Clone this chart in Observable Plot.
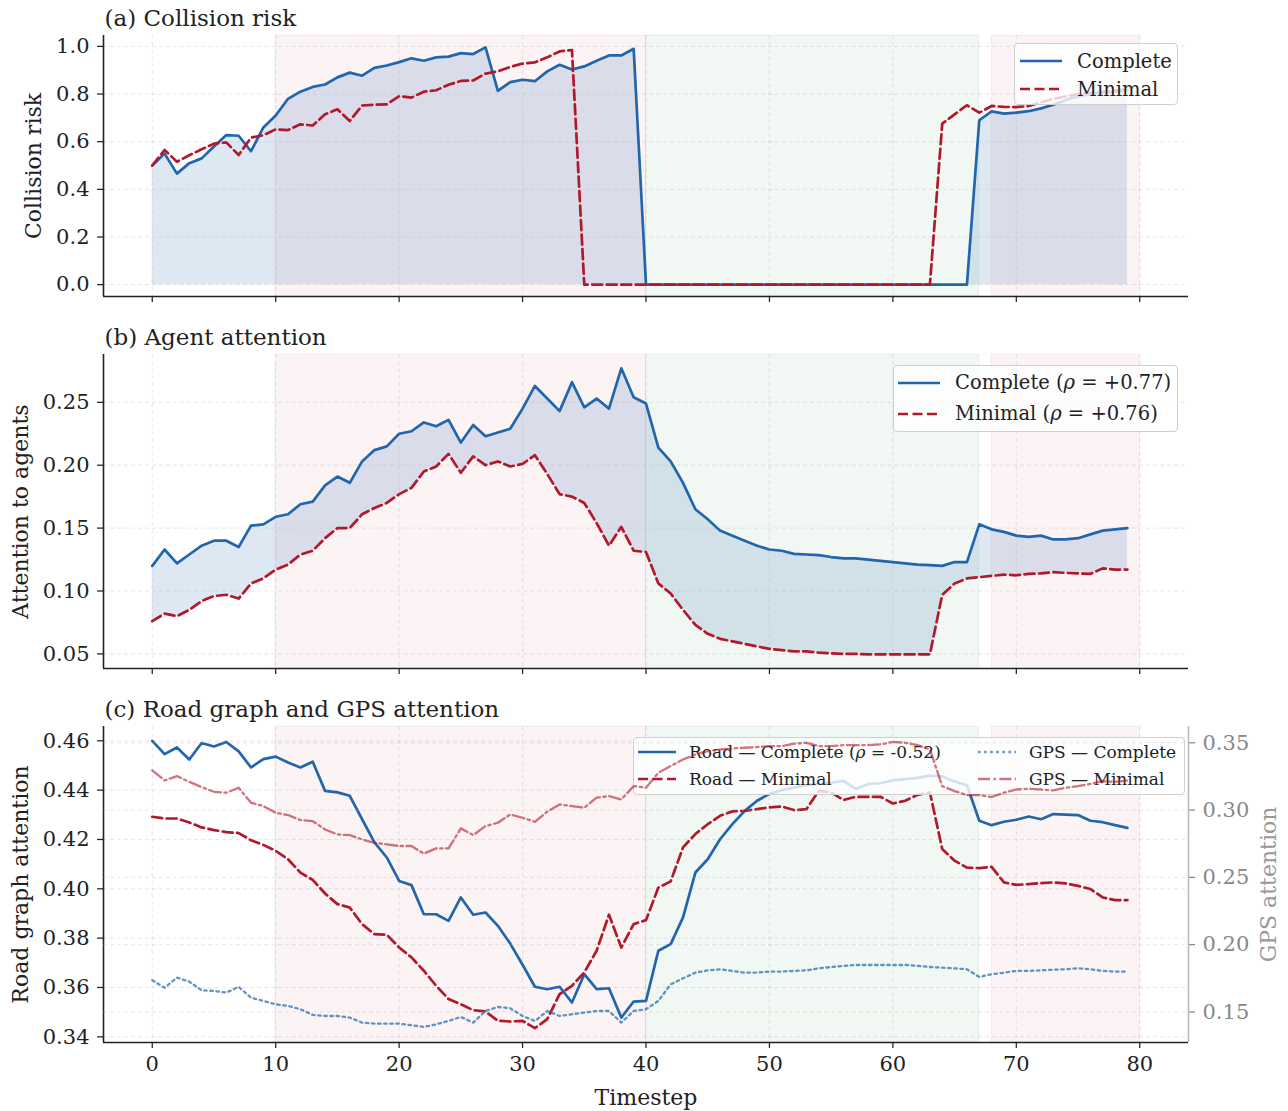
<!DOCTYPE html>
<html>
<head>
<meta charset="utf-8">
<script src="https://cdn.jsdelivr.net/npm/d3@7"></script>
<script src="https://cdn.jsdelivr.net/npm/@observablehq/plot@0.6"></script>
<style>
  body { margin: 0; background: #fff; }
  #fig { position: relative; width: 1288px; height: 1111px; background: #fff; font-family: "DejaVu Serif", serif; color: #222; overflow: hidden; }
  .legend { position: absolute; box-sizing: border-box; background: rgba(255,255,255,0.8); border: 1px solid #cfcfcf; border-radius: 4px; }
  .legend .item { position: absolute; display: flex; align-items: center; white-space: nowrap; }
</style>
</head>
<body>
<div id="fig"></div>
<script>
// ---------------- data ----------------
const timestepTicks = [0, 10, 20, 30, 40, 50, 60, 70, 80];
const riskTicks = [0.0, 0.2, 0.4, 0.6, 0.8, 1.0];
const agentTicks = [0.05, 0.10, 0.15, 0.20, 0.25];
const roadTicks = [0.34, 0.36, 0.38, 0.40, 0.42, 0.44, 0.46];
const gpsTicks = [0.15, 0.20, 0.25, 0.30, 0.35];

const phaseSpans = [
  {start: 10, end: 40, kind: "critical"},
  {start: 40, end: 67, kind: "safe"},
  {start: 68, end: 80, kind: "critical"}
];

// (a) collision risk, timesteps 0..79
const riskComplete = [
  0.50,0.55,0.466,0.51,0.53,0.58,0.628,0.625,0.56,0.66,
  0.71,0.78,0.81,0.83,0.84,0.87,0.89,0.877,0.91,0.92,
  0.934,0.95,0.94,0.954,0.957,0.972,0.968,0.996,0.813,0.85,
  0.86,0.854,0.895,0.923,0.903,0.916,0.94,0.962,0.962,0.99,
  0,0,0,0,0,0,0,0,0,0,
  0,0,0,0,0,0,0,0,0,0,
  0,0,0,0,0,0,0,0.69,0.727,0.718,
  0.722,0.728,0.74,0.755,0.775,0.79,0.80,0.805,0.81,0.815
];
const riskMinimal = [
  0.50,0.565,0.516,0.543,0.568,0.592,0.597,0.544,0.617,0.627,
  0.652,0.649,0.673,0.668,0.715,0.736,0.687,0.752,0.755,0.757,
  0.791,0.785,0.81,0.816,0.839,0.855,0.857,0.886,0.895,0.914,
  0.928,0.933,0.954,0.979,0.985,0,0,0,0,0,
  0,0,0,0,0,0,0,0,0,0,
  0,0,0,0,0,0,0,0,0,0,
  0,0,0,0,0.676,0.715,0.753,0.722,0.75,0.746,
  0.745,0.75,0.765,0.78,0.79,0.80,0.805,0.81,0.815,0.82
];

// (b) attention to agents
const agentComplete = [
  0.120,0.133,0.122,0.129,0.136,0.140,0.140,0.135,0.152,0.153,
  0.159,0.161,0.169,0.171,0.184,0.191,0.186,0.203,0.212,0.215,
  0.225,0.227,0.234,0.231,0.236,0.218,0.232,0.223,0.226,0.229,
  0.245,0.263,0.253,0.243,0.266,0.246,0.253,0.245,0.277,0.254,
  0.249,0.214,0.203,0.186,0.165,0.157,0.148,0.144,0.140,0.136,
  0.133,0.132,0.1295,0.129,0.1285,0.127,0.126,0.126,0.125,0.124,
  0.123,0.122,0.121,0.1205,0.120,0.123,0.123,0.153,0.149,0.147,
  0.144,0.143,0.144,0.141,0.141,0.142,0.145,0.148,0.149,0.150
];
const agentMinimal = [
  0.076,0.082,0.080,0.085,0.092,0.096,0.097,0.094,0.106,0.110,
  0.117,0.121,0.129,0.132,0.142,0.150,0.150,0.161,0.166,0.170,
  0.177,0.182,0.195,0.199,0.209,0.194,0.207,0.200,0.203,0.199,
  0.201,0.208,0.193,0.177,0.175,0.170,0.154,0.136,0.151,0.132,
  0.131,0.106,0.098,0.085,0.073,0.066,0.062,0.060,0.058,0.056,
  0.054,0.053,0.052,0.052,0.051,0.0505,0.050,0.050,0.0497,0.0497,
  0.0497,0.0497,0.0497,0.0497,0.097,0.106,0.110,0.111,0.112,0.113,
  0.1125,0.1136,0.114,0.115,0.1144,0.114,0.1136,0.118,0.117,0.117
];

// (c) road graph attention (left axis)
const roadComplete = [
  0.460,0.4546,0.4573,0.4524,0.4591,0.4577,0.4595,0.4557,0.4492,0.4526,
  0.4536,0.4512,0.4492,0.4515,0.4397,0.4391,0.4377,0.4282,0.4188,0.4127,
  0.4032,0.4015,0.3897,0.3897,0.387,0.3965,0.3895,0.3904,0.385,0.3778,
  0.3692,0.3603,0.3593,0.3603,0.3539,0.3654,0.3593,0.3597,0.3478,0.3543,
  0.3546,0.3749,0.3776,0.3884,0.4066,0.412,0.4201,0.4262,0.4316,0.4357,
  0.4385,0.440,0.441,0.442,0.4425,0.443,0.4438,0.4405,0.4425,0.4428,
  0.444,0.4445,0.445,0.4459,0.4455,0.4435,0.442,0.4276,0.4258,0.4272,
  0.428,0.4293,0.4282,0.4303,0.4301,0.4299,0.4276,0.427,0.4258,0.4247
];
const roadMinimal = [
  0.4292,0.4285,0.4285,0.4269,0.4249,0.4238,0.423,0.4226,0.4197,0.4178,
  0.4154,0.412,0.4066,0.4036,0.3981,0.3938,0.3924,0.3857,0.3816,0.3814,
  0.3762,0.3722,0.3668,0.3607,0.3553,0.3532,0.3508,0.3503,0.3465,0.3462,
  0.3465,0.3435,0.3472,0.3573,0.3607,0.3661,0.3749,0.3895,0.3762,0.3857,
  0.3873,0.4005,0.403,0.4168,0.4222,0.4262,0.4296,0.4314,0.4316,0.4323,
  0.433,0.4334,0.4319,0.4323,0.4397,0.4391,0.436,0.4373,0.4373,0.4373,
  0.4346,0.4357,0.4381,0.4391,0.4161,0.4114,0.4086,0.4084,0.4089,0.4026,
  0.4016,0.4019,0.4023,0.4026,0.4022,0.4012,0.3999,0.3965,0.3954,0.3954
];

// (c) GPS attention (right axis)
const gpsComplete = [
  0.1735,0.168,0.1755,0.1725,0.1661,0.1656,0.1644,0.1686,0.1606,0.1582,
  0.1557,0.1545,0.152,0.1478,0.147,0.147,0.1458,0.1421,0.1413,0.1413,
  0.1413,0.1401,0.1389,0.1408,0.1433,0.1463,0.1421,0.1507,0.1537,0.1527,
  0.147,0.1433,0.1507,0.147,0.1483,0.1495,0.1507,0.1507,0.1421,0.1507,
  0.152,0.1582,0.1705,0.175,0.1792,0.1809,0.1817,0.1805,0.1792,0.1792,
  0.18,0.18,0.1805,0.1809,0.1824,0.1834,0.1842,0.1849,0.1849,0.1849,
  0.1849,0.1849,0.1842,0.1834,0.1829,0.1824,0.1817,0.176,0.178,0.1792,
  0.1805,0.1805,0.1809,0.1814,0.1817,0.1824,0.1817,0.1805,0.18,0.18
];
const gpsMinimal = [
  0.3295,0.322,0.3252,0.321,0.3171,0.3136,0.3129,0.3166,0.3054,0.303,
  0.298,0.2963,0.2926,0.2918,0.2856,0.2819,0.2814,0.2782,0.2757,0.2745,
  0.2733,0.2733,0.2676,0.2715,0.2715,0.2864,0.2814,0.2881,0.2906,0.2968,
  0.2943,0.2913,0.2988,0.3042,0.303,0.3017,0.3092,0.3104,0.3079,0.3178,
  0.3166,0.3277,0.3327,0.3376,0.3413,0.3438,0.345,0.3458,0.3463,0.3468,
  0.3475,0.3475,0.3493,0.35,0.3475,0.3475,0.3483,0.3483,0.3483,0.3488,
  0.3507,0.35,0.3483,0.345,0.3178,0.3141,0.3111,0.3111,0.3097,0.3129,
  0.3153,0.3158,0.3153,0.3146,0.3166,0.3178,0.3195,0.3215,0.321,0.322
];

const riskLegend = ["Complete", "Minimal"];
const agentLegend = ["Complete (<i>ρ</i> = +0.77)", "Minimal (<i>ρ</i> = +0.76)"];
const roadLegend = ["Road — Complete (<i>ρ</i> = -0.52)", "Road — Minimal", "GPS — Complete", "GPS — Minimal"];

// ---------------- styling / helpers ----------------
const FONT = "DejaVu Serif";
const BLUE = "#2166ac", RED = "#b2182b", GREEN = "#2e8b3e";
const DASH = "10,4.5", DOT = "2.5,3.6", DASHDOT = "12,3.5,2.4,3.5";
const LW = 2.7, GPS_LW = 2.3;
const X_DOMAIN = [-3.95, 83.95];
const TICK_FONT = 21;
const fig = document.getElementById("fig");
const idx = (d, i) => i;

const gridStyle = {stroke: "#b0b0b0", strokeOpacity: 0.4, strokeDasharray: "4,3", strokeWidth: 0.8};

function spanMarks() {
  return [
    Plot.rect(phaseSpans.filter(d => d.kind === "critical"), {x1: "start", x2: "end", fill: RED, fillOpacity: 0.05, stroke: RED, strokeOpacity: 0.06}),
    Plot.rect(phaseSpans.filter(d => d.kind === "safe"), {x1: "start", x2: "end", fill: GREEN, fillOpacity: 0.065, stroke: GREEN, strokeOpacity: 0.08})
  ];
}
function gridMarks(yt) {
  return [Plot.gridX(timestepTicks, gridStyle), Plot.gridY(yt, gridStyle)];
}
function axisMarks(yt, fmt, showX, yDomain) {
  return [
    Plot.axisX(timestepTicks, {tickSize: 6, tickPadding: 8, tickFormat: showX ? d => String(d) : () => "",
      fontSize: TICK_FONT, label: null, color: "#222", strokeWidth: 1.25}),
    Plot.axisY(yt, {tickSize: 6, tickPadding: 8, tickFormat: fmt, fontSize: TICK_FONT, label: null, color: "#222", strokeWidth: 1.25}),
    Plot.ruleX([X_DOMAIN[0]], {stroke: "#222", strokeWidth: 1.6}),
    Plot.ruleY([yDomain[0]], {stroke: "#222", strokeWidth: 1.6})
  ];
}
function titleMark(t) {
  return Plot.text([t], {text: d => d, frameAnchor: "top-left", textAnchor: "start", lineAnchor: "bottom",
    dy: -10, dx: 1, fontSize: 23, fill: "#222"});
}
function yLabelMark(t, dx) {
  return Plot.text([t], {text: d => d, frameAnchor: "left", textAnchor: "middle", rotate: -90, dx, fontSize: 22, fill: "#222"});
}
function panel({top, height, marginTop, marginBottom, yDomain, marks, z}) {
  const svg = Plot.plot({
    width: 1288, height, marginLeft: 103, marginRight: 100, marginTop, marginBottom,
    x: {domain: X_DOMAIN, axis: null},
    y: {domain: yDomain, axis: null},
    style: {fontFamily: FONT, fontSize: TICK_FONT + "px", color: "#222", background: "transparent", overflow: "visible"},
    marks
  });
  const wrap = document.createElement("div");
  wrap.style.cssText = `position:absolute;left:0;top:${top}px;width:1288px;height:${height}px;z-index:${z || 1};`;
  wrap.appendChild(svg);
  fig.appendChild(wrap);
}
function swatch(color, dash, w, sw, opacity) {
  return `<svg width="${w}" height="12" style="display:block"><line x1="0" x2="${w}" y1="6" y2="6" stroke="${color}" stroke-width="${sw}" ${dash ? `stroke-dasharray="${dash}"` : ""} stroke-opacity="${opacity || 1}"/></svg>`;
}
function legendBox(box, items, z) {
  const div = document.createElement("div");
  div.className = "legend";
  div.style.cssText += `left:${box.left}px;top:${box.top}px;width:${box.width}px;height:${box.height}px;z-index:${z};font-size:${box.fontSize}px;`;
  div.innerHTML = items.map(it =>
    `<div class="item" style="left:${it.x}px;top:${it.y}px;height:${box.rowH}px">${swatch(it.color, it.dash, box.sw, it.width, it.opacity)}<span style="margin-left:${box.gap}px">${it.label}</span></div>`
  ).join("");
  fig.appendChild(div);
}

// ---------------- panel (a) ----------------
const yA = [-0.0498, 1.0458];
panel({top: 0, height: 320, marginTop: 35, marginBottom: 24, yDomain: yA, marks: [
  ...spanMarks(),
  Plot.areaY(riskComplete, {x: idx, y1: () => 0, y2: d => d, fill: BLUE, fillOpacity: 0.15}),
  ...gridMarks(riskTicks),
  Plot.line(riskComplete, {x: idx, y: d => d, stroke: BLUE, strokeWidth: LW}),
  Plot.line(riskMinimal, {x: idx, y: d => d, stroke: RED, strokeWidth: LW, strokeDasharray: DASH}),
  ...axisMarks(riskTicks, d => d.toFixed(1), false, yA),
  titleMark("(a) Collision risk"),
  yLabelMark("Collision risk", -70)
]});
legendBox({left: 1014, top: 43, width: 164, height: 62, rowH: 28, sw: 42, gap: 15, fontSize: 19.5}, [
  {x: 5, y: 3, label: riskLegend[0], color: BLUE, width: LW},
  {x: 5, y: 31, label: riskLegend[1], color: RED, dash: DASH, width: LW}
], 2);

// ---------------- panel (b) ----------------
const yB = [0.0384, 0.288];
panel({top: 320, height: 370, marginTop: 34, marginBottom: 22, yDomain: yB, marks: [
  ...spanMarks(),
  Plot.areaY(agentComplete, {x: idx, y1: (d, i) => agentMinimal[i], y2: d => d, fill: BLUE, fillOpacity: 0.15}),
  ...gridMarks(agentTicks),
  Plot.line(agentComplete, {x: idx, y: d => d, stroke: BLUE, strokeWidth: LW}),
  Plot.line(agentMinimal, {x: idx, y: d => d, stroke: RED, strokeWidth: LW, strokeDasharray: DASH}),
  ...axisMarks(agentTicks, d => d.toFixed(2), false, yB),
  titleMark("(b) Agent attention"),
  yLabelMark("Attention to agents", -83)
]});
legendBox({left: 893, top: 365, width: 285, height: 67, rowH: 31, sw: 42, gap: 15, fontSize: 19.5}, [
  {x: 4, y: 1, label: agentLegend[0], color: BLUE, width: LW},
  {x: 4, y: 32, label: agentLegend[1], color: RED, dash: DASH, width: LW}
], 2);

// ---------------- panel (c) ----------------
const yC = [0.3377, 0.4658];
panel({top: 690, height: 421, marginTop: 36, marginBottom: 69, yDomain: yC, z: 1, marks: [
  ...spanMarks(),
  ...gridMarks(roadTicks),
  Plot.line(roadComplete, {x: idx, y: d => d, stroke: BLUE, strokeWidth: LW}),
  Plot.line(roadMinimal, {x: idx, y: d => d, stroke: RED, strokeWidth: LW, strokeDasharray: DASH}),
  ...axisMarks(roadTicks, d => d.toFixed(2), true, yC),
  titleMark("(c) Road graph and GPS attention"),
  yLabelMark("Road graph attention", -83),
  Plot.text(["Timestep"], {text: d => d, frameAnchor: "bottom", dy: 62, fontSize: 22, fill: "#222"})
]});
legendBox({left: 633, top: 737, width: 552, height: 58, rowH: 27, sw: 38, gap: 13, fontSize: 17}, [
  {x: 4, y: 0, label: roadLegend[0], color: BLUE, width: LW},
  {x: 4, y: 27, label: roadLegend[1], color: RED, dash: DASH, width: LW},
  {x: 344, y: 0, label: roadLegend[2], color: BLUE, dash: DOT, width: GPS_LW, opacity: 0.7},
  {x: 344, y: 27, label: roadLegend[3], color: RED, dash: DASHDOT, width: GPS_LW, opacity: 0.6}
], 2);

// GPS twin axis overlay (drawn above the legend)
const yG = [0.1273, 0.3621];
panel({top: 690, height: 421, marginTop: 36, marginBottom: 69, yDomain: yG, z: 3, marks: [
  Plot.gridY(gpsTicks, gridStyle),
  Plot.line(gpsComplete, {x: idx, y: d => d, stroke: BLUE, strokeOpacity: 0.7, strokeWidth: GPS_LW, strokeDasharray: DOT}),
  Plot.line(gpsMinimal, {x: idx, y: d => d, stroke: RED, strokeOpacity: 0.6, strokeWidth: GPS_LW, strokeDasharray: DASHDOT}),
  Plot.axisY(gpsTicks, {anchor: "right", tickSize: 6, tickPadding: 8, tickFormat: d => d.toFixed(2), fontSize: TICK_FONT, label: null, color: "#888", strokeWidth: 1.25}),
  Plot.ruleX([X_DOMAIN[1]], {stroke: "#bbb", strokeWidth: 1.6}),
  Plot.text(["GPS attention"], {text: d => d, frameAnchor: "right", textAnchor: "middle", rotate: -90, dx: 80, fontSize: 22, fill: "#999"})
]});
</script>
</body>
</html>
